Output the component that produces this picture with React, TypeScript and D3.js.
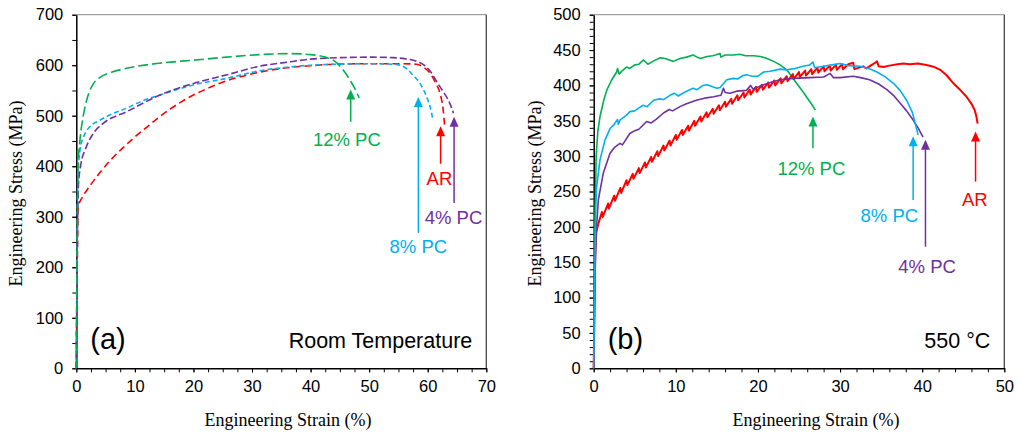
import React, { useEffect, useRef } from "react";
import * as d3 from "d3";

type P = [number, number];

// ---------- Panel (a): Room temperature (dashed) ----------
const rtAR: P[] = [[0,0],[0.35,320],[1,338],[2,356],[3,372],[4,387],[5,401],[6,414],[8,437],[10,458],[12,477],[14,496],[16,513],[18,528],[20,541],[22,552],[24,562],[27,574],[30,583],[33,590],[36,595],[40,599],[44,602],[50,603],[55,603],[58.1,602],[59.3,596],[60.4,584],[61.3,566],[62.1,544],[62.6,515],[62.9,478]];
const rt4: P[] = [[0,0],[0.35,360],[0.8,405],[1.5,432],[2.9,465],[4.6,485],[8.6,508],[14.3,541],[20,564],[25.7,581],[31.3,598],[36,606],[40,612],[45,615],[50,616],[54,615],[56,613],[57.5,610],[58.5,606],[59.5,599],[60.5,587],[61.5,568],[62.5,550],[63.5,531],[64.0,518],[64.4,505]];
const rt8: P[] = [[0,0],[0.25,370],[0.63,432],[1.3,460],[2.3,478],[4.0,491],[6,503],[8.6,515],[11,528],[14.3,541],[20,561],[25.7,574],[31.3,589],[36,596],[40,600],[45,602],[50,603],[54,602],[55.3,600],[56.5,592],[57.5,580],[58.5,567],[59.3,551],[60.0,532],[60.4,518],[60.9,491]];
const rt12: P[] = [[0,0],[0.3,400],[0.63,452],[1.2,500],[2.0,540],[2.9,563],[4.05,576],[6,586],[8.6,594],[14.2,604],[20,610],[25.7,616],[31.4,621],[36.5,623],[40,621],[42.5,616],[44,609],[45.6,590],[46.7,571],[47.5,555],[48.3,535]];

// ---------- Panel (b): 550 °C (solid, serrated) ----------
const htAR: P[] = [[0,0],[0.1,100],[0.2,170],[0.3,192],[0.6,206],
[1,221],[1.1,214],[1.75,233],[1.85,226],[2.5,244],[2.6,237],[3.25,255],[3.35,248],[4,266],[4.1,259],
[4.75,275],[4.85,268],[5.5,283],[5.6,276],[6.25,291],[6.35,284],[7,299],[7.1,292],[7.75,307],[7.85,300],
[8.5,315],[8.6,308],[9.25,322],[9.35,315],[10,330],[10.1,323],[10.75,337],[10.85,330],[11.5,343],[11.6,336],
[12.25,350],[12.35,343],[13,356],[13.1,349],[13.75,362],[13.85,355],[14.5,367],[14.6,360],[15.25,372],[15.35,365],
[16,377],[16.1,370],[16.75,381],[16.85,374],[17.5,386],[17.6,379],[18.25,390],[18.35,383],[19,394],[19.1,387],
[19.75,398],[19.85,391],[20.5,401],[20.6,394],[21.25,404],[21.35,397],[22,407],[22.1,400],[22.75,410],[22.85,403],
[23.5,413],[23.6,406],[24.25,416],[24.35,409],[25,419],[25.1,412],[25.75,421],[25.85,414],[26.5,423],[26.6,416],
[27.25,425],[27.35,418],[28,427],[28.1,420],[28.75,428],[28.85,421],[29.5,429],[29.6,422],[30.25,430],[30.35,423],
[31,430],[31.6,432],[31.75,423],[32.8,427],[33.2,424],[34,430],[34.5,434],[34.7,427],[35.3,426],[36,428],
[37,430],[37.7,431],[38.5,430],[39.5,431],[40.5,429],[41.5,426],[42.2,422],[43,414],[43.8,403],[44.6,394],
[45.4,384],[46,374],[46.4,365],[46.6,356],[46.75,346]];
const ht4: P[] = [[0,0],[0.2,150],[0.35,200],[0.56,238],[1.17,276],[1.99,304],[2.5,312],[3.2,318],[3.5,316],[4.4,332],[5.0,336],[5.5,338],[6.45,349],[7.0,347],[7.6,352],[8.5,361],[9.2,366],[9.6,364],[10.5,370],[11.3,374],[12.5,379],[13.5,382],[14.6,384],[15.5,386],[15.8,396],[16.0,390],[16.6,389],[17.5,392],[18.6,393],[19.1,400],[19.4,395],[20.7,401],[21.5,404],[22.7,408],[24.3,410],[26.3,411],[28,412],[28.8,417],[29.2,411],[30,411],[31.6,413],[32.5,411],[33.6,408],[34.7,402],[35.7,394],[36.5,386],[37.3,375],[38.1,364],[38.9,351],[39.5,340],[40.1,327]];
const ht8: P[] = [[0,0],[0.15,150],[0.25,230],[0.36,257],[0.77,295],[1.38,323],[1.99,339],[2.5,345],[2.9,352],[3.0,345],[3.2,351],[4.0,358],[4.4,363],[5.0,364],[5.6,369],[6.0,372],[6.5,370],[7.3,379],[8.0,381],[8.5,380],[9.3,386],[9.8,389],[10.3,385],[11.0,390],[12.1,396],[12.6,394],[13.3,400],[13.8,401],[14.5,398],[15.0,396],[15.4,397],[16.2,408],[17.0,410],[17.5,409],[18.2,414],[18.6,415],[19.3,413],[20.0,413],[20.7,419],[21.5,420],[22.7,423],[23.5,422],[24.5,424],[25.5,427],[26.3,429],[26.7,433],[26.9,425],[28,427],[29,429],[30,431],[31,428],[32.4,427],[33.5,424],[34.5,419],[35.5,412],[36.5,403],[37.3,393],[38.1,379],[38.8,362],[39.4,335],[39.5,330]];
const ht12: P[] = [[0,0],[0.15,200],[0.3,300],[0.5,335],[0.77,356],[1.2,378],[1.58,393],[2.2,408],[2.8,419],[2.9,424],[3.1,416],[3.5,421],[4.0,426],[4.4,424],[5.0,429],[5.5,430],[6.05,436],[6.6,430],[7.2,434],[8.1,439],[8.7,438],[9.2,436],[9.7,434],[10.5,438],[11.3,440],[12.1,443],[12.6,440],[13.0,438],[13.8,441],[14.5,442],[15.4,445],[15.5,440],[16.0,443],[17.0,443],[17.8,444],[18.5,442],[19.5,442],[20.3,441],[21.1,438],[21.9,434],[22.7,429],[23.5,422],[24.1,413],[24.7,403],[25.3,394],[25.9,384],[26.5,374],[27,365]];

const seriesNames = ["AR", "4% PC", "8% PC", "12% PC"];
const colors: Record<string, string> = { "AR": "#FF0000", "4% PC": "#7030A0", "8% PC": "#00B0F0", "12% PC": "#00B050" };

// arrows: [series, strain, tipStress, tailStress, labelStrain, labelStress]
const rtArrows: [string, number, number, number, number, number][] = [
  ["12% PC", 46.85, 552, 488, 46.2, 453],
  ["8% PC", 58.4, 537, 268, 58.4, 241],
  ["AR", 62.2, 479, 405, 62.0, 376],
  ["4% PC", 64.5, 498, 327, 64.4, 299],
];
const htArrows: [string, number, number, number, number, number][] = [
  ["12% PC", 26.7, 356, 311, 26.5, 282],
  ["8% PC", 38.9, 328, 238, 36.0, 216],
  ["4% PC", 40.4, 323, 172, 40.6, 144],
  ["AR", 46.5, 335, 264, 46.4, 238],
];

const FONT = "'Liberation Sans', Arial, sans-serif";
const SERIF = "'Liberation Serif', 'Times New Roman', serif";

interface PanelCfg {
  x0: number; x1: number; y0: number; y1: number;
  xMax: number; yMax: number; xMajor: number; xMinor: number; yMajor: number; yMinor: number;
  data: Record<string, P[]>; dashed: boolean;
  arrows: [string, number, number, number, number, number][];
  tag: string; cond: string; xTitleX: number; yTitleX: number;
}

const dashes: Record<string, string> = { "AR": "7,4", "4% PC": "7,3", "8% PC": "5,3", "12% PC": "10,4" };

function drawPanel(svg: d3.Selection<SVGSVGElement, unknown, null, undefined>, c: PanelCfg) {
  const x = d3.scaleLinear().domain([0, c.xMax]).range([c.x0, c.x1]);
  const y = d3.scaleLinear().domain([0, c.yMax]).range([c.y0, c.y1]);
  const g = svg.append("g");

  g.append("line").attr("x1", c.x0).attr("x2", c.x1).attr("y1", c.y1).attr("y2", c.y1).attr("stroke", "#888").attr("stroke-width", 1);
  g.append("line").attr("x1", c.x1).attr("x2", c.x1).attr("y1", c.y1).attr("y2", c.y0).attr("stroke", "#444").attr("stroke-width", 1.3);

  const xMinorAxis = d3.axisBottom(x).tickValues(d3.range(0, c.xMax + 1e-9, c.xMinor)).tickSize(4).tickFormat(() => "");
  const yMinorAxis = d3.axisLeft(y).tickValues(d3.range(0, c.yMax + 1e-9, c.yMinor)).tickSize(4).tickFormat(() => "");
  g.append("g").attr("transform", `translate(0,${c.y0})`).call(xMinorAxis).call(s => s.select(".domain").remove()).selectAll("line").attr("stroke", "#000");
  g.append("g").attr("transform", `translate(${c.x0},0)`).call(yMinorAxis).call(s => s.select(".domain").remove()).selectAll("line").attr("stroke", "#000");

  const xAxis = d3.axisBottom(x).tickValues(d3.range(0, c.xMax + 1e-9, c.xMajor)).tickSize(4).tickPadding(8).tickSizeOuter(0);
  const yAxis = d3.axisLeft(y).tickValues(d3.range(0, c.yMax + 1e-9, c.yMajor)).tickSize(4).tickPadding(9).tickSizeOuter(0);
  const gx = g.append("g").attr("transform", `translate(0,${c.y0})`).call(xAxis);
  const gy = g.append("g").attr("transform", `translate(${c.x0},0)`).call(yAxis);
  [gx, gy].forEach(a => {
    a.selectAll("text").attr("font-family", FONT).attr("font-size", 16.5).attr("fill", "#000");
    a.select(".domain").attr("stroke", "#000").attr("stroke-width", 1.5);
    a.selectAll(".tick line").attr("stroke", "#000");
  });

  const line = d3.line<P>().x(d => x(d[0])).y(d => y(d[1]));
  if (c.dashed) line.curve(d3.curveMonotoneX);
  const order = c.dashed ? ["AR", "8% PC", "4% PC", "12% PC"] : ["12% PC", "AR", "4% PC", "8% PC"];
  order.forEach(name => {
    const p = g.append("path").datum(c.data[name]).attr("d", line).attr("fill", "none")
      .attr("stroke", colors[name]).attr("stroke-width", c.dashed ? 1.6 : (name === "AR" ? 2 : 1.6))
      .attr("stroke-linejoin", "round");
    if (c.dashed) p.attr("stroke-dasharray", dashes[name]);
  });

  c.arrows.forEach(([name, sx, tip, tail, lx, ly]) => {
    const col = colors[name];
    const ax = x(sx), ty = y(tip), by = y(tail);
    g.append("line").attr("x1", ax).attr("x2", ax).attr("y1", by).attr("y2", ty + 8).attr("stroke", col).attr("stroke-width", 1.5);
    g.append("path").attr("d", `M${ax},${ty} L${ax - 4.5},${ty + 10} L${ax + 4.5},${ty + 10} Z`).attr("fill", col);
    g.append("text").attr("x", x(lx)).attr("y", y(ly)).attr("text-anchor", "middle").attr("dominant-baseline", "central")
      .attr("font-family", FONT).attr("font-size", 18.5).attr("fill", col).text(name);
  });

  g.append("text").attr("x", c.x0 + 14).attr("y", 349).attr("font-family", FONT).attr("font-size", 29).attr("fill", "#000").text(c.tag);
  g.append("text").attr("x", c.x1 - 14).attr("y", 348).attr("text-anchor", "end").attr("font-family", FONT).attr("font-size", 21.5).attr("fill", "#000").text(c.cond);

  g.append("text").attr("x", c.xTitleX).attr("y", 426).attr("text-anchor", "middle").attr("font-family", SERIF).attr("font-size", 18).attr("fill", "#000").text("Engineering Strain (%)");
  g.append("text").attr("transform", `translate(${c.yTitleX},${(c.y0 + c.y1) / 2 + 2}) rotate(-90)`).attr("text-anchor", "middle").attr("dominant-baseline", "central")
    .attr("font-family", SERIF).attr("font-size", 18).attr("fill", "#000").text("Engineering Stress (MPa)");
}

export default function App() {
  const ref = useRef<SVGSVGElement>(null);
  useEffect(() => {
    const svg = d3.select(ref.current!);
    svg.selectAll("*").remove();
    drawPanel(svg, {
      x0: 76.3, x1: 486.3, y0: 368.3, y1: 14.7, xMax: 70, yMax: 700, xMajor: 10, xMinor: 2.5, yMajor: 100, yMinor: 50,
      data: { "AR": rtAR, "4% PC": rt4, "8% PC": rt8, "12% PC": rt12 }, dashed: true, arrows: rtArrows,
      tag: "(a)", cond: "Room Temperature", xTitleX: 288, yTitleX: 16,
    });
    drawPanel(svg, {
      x0: 593.7, x1: 1004.3, y0: 368.3, y1: 14.7, xMax: 50, yMax: 500, xMajor: 10, xMinor: 2, yMajor: 50, yMinor: 10,
      data: { "AR": htAR, "4% PC": ht4, "8% PC": ht8, "12% PC": ht12 }, dashed: false, arrows: htArrows,
      tag: "(b)", cond: "550 °C", xTitleX: 816, yTitleX: 535,
    });
  }, []);
  return (
    <svg ref={ref} width={1019} height={435} style={{ position: "absolute", left: 0, top: 0, background: "#fff" }} data-series={seriesNames.join(",")} />
  );
}
